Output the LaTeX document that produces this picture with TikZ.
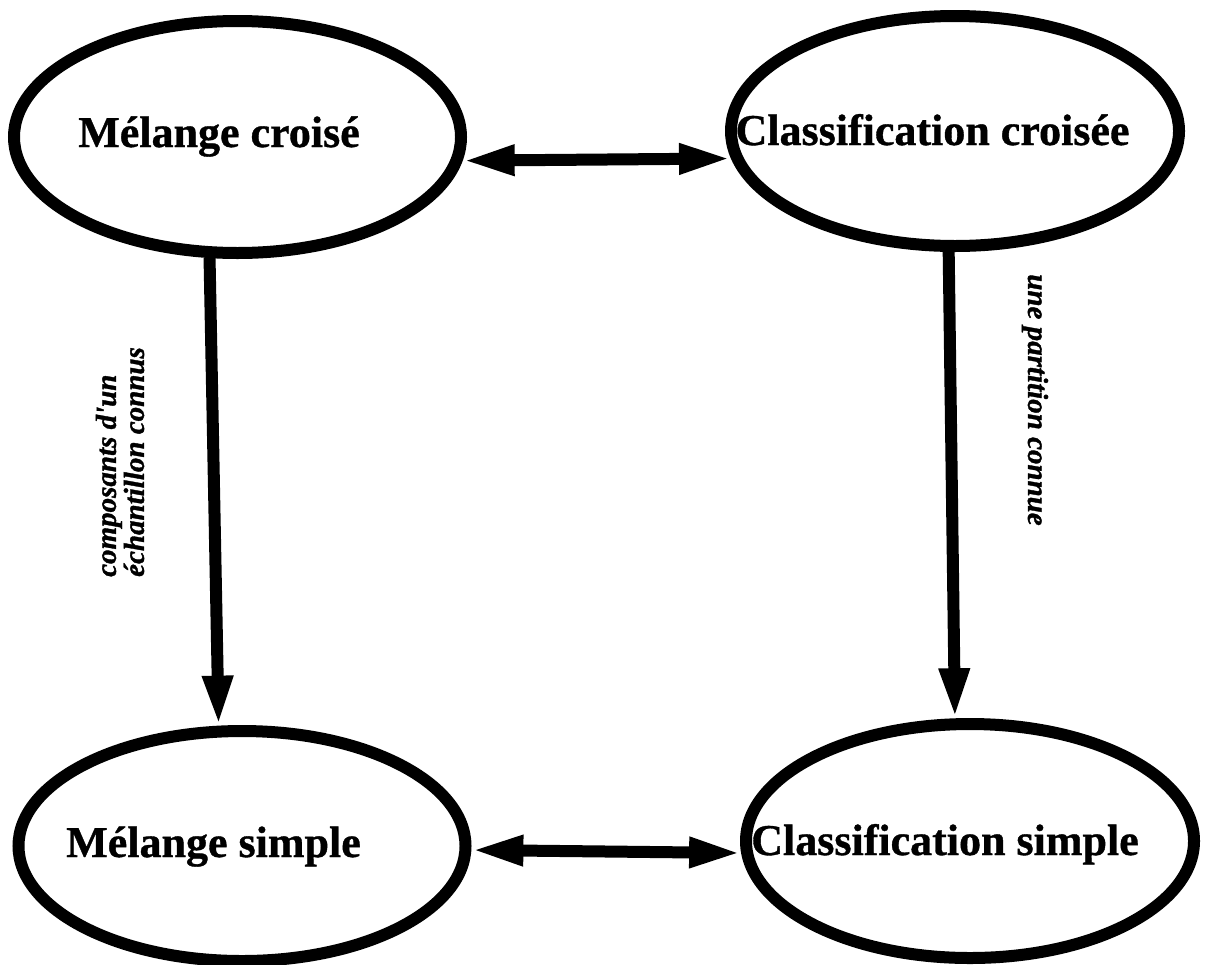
\documentclass[tikz,border=0pt]{standalone}
\usepackage{fontspec}
\setmainfont{Liberation Serif}
\newfontfamily\ttlfont[BoldFeatures={FakeBold=0.8}]{Liberation Serif}
\newfontfamily\labfont[BoldItalicFeatures={FakeBold=1.2}]{Liberation Serif}
\usetikzlibrary{shapes.geometric,arrows.meta}
\tikzset{
  ell/.style={ellipse, draw=black, line width=6pt, inner sep=0pt},
  ttl/.style={anchor=base, font=\ttlfont\fontsize{22}{26}\selectfont\bfseries, inner sep=0pt},
  lab/.style={font=\labfont\fontsize{14.5}{14}\selectfont\bfseries\itshape, inner sep=0pt},
  dbl/.style={line width=6pt, {Triangle[length=26pt,width=14pt]}-{Triangle[length=26pt,width=14pt]}},
  sgl/.style={line width=6pt, -{Triangle[length=25pt,width=14pt]}}
}
\begin{document}
\begin{tikzpicture}[x=0.5pt,y=-0.5pt]
\fill[white] (0,0) rectangle (1208,964);
\useasboundingbox (0,0) rectangle (1208,964);
% ellipses
\node[ell, minimum width=223.5pt, minimum height=116pt] (tl) at (237.5,137) {};
\node[ell, minimum width=224pt, minimum height=115pt] (tr) at (955,131) {};
\node[ell, minimum width=223.5pt, minimum height=115pt] (bl) at (242,846) {};
\node[ell, minimum width=224pt, minimum height=117pt] (br) at (970,841) {};
% titles
\node[ttl] (ttl) at (219,147) {Mélange croisé};
\node[ttl] (ttr) at (932.5,145) {Classification croisée};
\node[ttl] (tbl) at (213.5,857) {Mélange simple};
\node[ttl] (tbr) at (945,855) {Classification simple};
% connectors
\draw[dbl] (tl.-6) -- (tr.187.6);
\draw[dbl] (bl.-1.8) -- (br.183.1);
\draw[sgl] (tl.257) -- (bl.101.9);
\draw[sgl] (tr.267) -- (br.97.8);
% labels
\node[lab, rotate=90, align=left] (lleft) at (120,462) {composants d\char"0027un\\échantillon connus};
\node[lab, rotate=-90] (lright) at (1035,400) {une partition connue};
\end{tikzpicture}
\end{document}
